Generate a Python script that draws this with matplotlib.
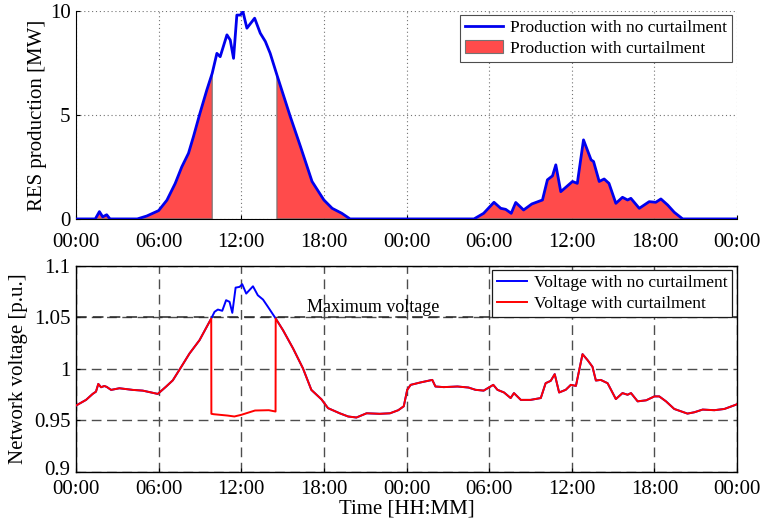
import numpy as np
import matplotlib
matplotlib.use('Agg')
import matplotlib.pyplot as plt
import matplotlib.transforms as mtransforms

plt.rcParams['font.family'] = ['Liberation Serif', 'DejaVu Serif']

# ---- RES production (MW), two days, hours from 00:00 of day 1
prod_hours = [0, 1.4, 1.7, 1.94, 2.23, 2.47, 4.45, 5.14, 6.0, 6.6, 7.2, 7.68, 8.17, 8.53, 9.0, 9.5,
              9.89, 10.23, 10.47, 10.96, 11.2, 11.44, 11.68, 11.93, 12.12, 12.41, 12.97, 13.38,
              13.75, 14.1, 14.59, 15.56, 16.3, 17.14, 18.0, 18.6, 19.3, 19.9,
              28.9, 29.6, 30.35, 30.84, 31.2, 31.6, 31.93, 32.5, 33.1, 33.87, 34.23, 34.6,
              34.84, 35.2, 36.05, 36.4, 36.85, 37.4, 37.58, 37.99, 38.35, 38.7, 39.2, 39.68,
              40.05, 40.29, 40.9, 41.62, 42.1, 42.47, 42.96, 43.44, 44.05, 48]
prod_mw = [0, 0, 0.35, 0.1, 0.2, 0, 0, 0.14, 0.4, 0.9, 1.7, 2.5, 3.16, 3.96, 5.08, 6.2,
           7.0, 7.96, 7.8, 8.85, 8.6, 7.72, 9.8, 9.8, 9.97, 9.17, 9.65, 8.93,
           8.53, 7.96, 6.92, 4.92, 3.48, 1.8, 0.91, 0.51, 0.27, 0,
           0, 0.27, 0.8, 0.51, 0.46, 0.27, 0.79, 0.43, 0.72, 0.91, 1.88, 2.07,
           2.6, 1.31, 1.8, 1.71, 3.8, 2.84, 2.76, 1.8, 1.92, 1.71, 0.75, 1.04,
           0.91, 0.99, 0.51, 0.83, 0.8, 0.96, 0.67, 0.32, 0, 0]
curt_start, curt_end = 9.89, 14.59

# ---- network voltage (p.u.)
volt_hours = [0, 0.73, 1.21, 1.45, 1.62, 1.82, 2.06, 2.23, 2.55, 3.15, 4.12, 4.85, 5.94, 6.55,
              7.03, 7.64, 8.24, 8.97, 9.82, 10.06, 10.3, 10.62, 10.9, 11.15, 11.35, 11.59,
              11.88, 12.07, 12.36, 12.85, 13.2, 13.58, 13.94, 14.5, 15.03, 15.76, 16.48,
              17.09, 17.82, 18.3, 19.15, 19.76, 20.36, 21.1, 22.06, 22.8, 23.4, 23.8,
              24.05, 24.3, 25.0, 25.87, 26.1, 26.7, 27.7, 28.5, 29.0, 29.6, 30.3, 30.6,
              31.08, 31.56, 31.8, 32.3, 33.0, 33.75, 34.1, 34.47, 34.76, 35.08, 35.56,
              35.93, 36.3, 36.78, 37.14, 37.5, 37.75, 38.1, 38.6, 39.2, 39.68, 40.05,
              40.3, 40.78, 41.4, 42.0, 42.35, 42.84, 43.44, 44.4, 44.9, 45.5, 46.35,
              47.08, 47.93, 48]
volt_no_curt = [0.9645, 0.970, 0.9758, 0.978, 0.9855, 0.9823, 0.9835, 0.9826, 0.9797, 0.9813,
                0.9797, 0.979, 0.9758, 0.983, 0.989, 1.002, 1.015, 1.028, 1.049, 1.0555,
                1.0577, 1.0565, 1.0668, 1.0652, 1.0545, 1.079, 1.0797, 1.0823, 1.0732,
                1.0803, 1.0716, 1.0674, 1.0603, 1.049, 1.0377, 1.02, 1.0006, 0.9797, 0.9706,
                0.962, 0.957, 0.9539, 0.9529, 0.957, 0.9565, 0.957, 0.960, 0.9638,
                0.9798, 0.9846, 0.9869, 0.9894, 0.983, 0.9824, 0.983, 0.982, 0.9798, 0.979,
                0.9846, 0.9798, 0.9772, 0.9718, 0.9766, 0.970, 0.970, 0.9718, 0.9862,
                0.9885, 0.995, 0.9772, 0.9798, 0.9846, 0.9836, 1.0144, 1.0087, 1.0022,
                0.9888, 0.9894, 0.9862, 0.9708, 0.9766, 0.975, 0.9766, 0.9686, 0.9696,
                0.9734, 0.9734, 0.9686, 0.9612, 0.9567, 0.958, 0.9606, 0.960, 0.9612,
                0.9654, 0.966]
# voltage inside the curtailment window
curt_v_hours = [9.82, 9.83, 10.0, 11.0, 11.5, 12.0, 13.0, 14.0, 14.49, 14.5]
curt_v = [1.049, 0.9565, 0.9561, 0.9548, 0.9539, 0.9555, 0.9597, 0.960, 0.9587, 1.049]
v_max = 1.05

xticks = np.arange(0, 49, 6)
xlabels = ['00:00', '06:00', '12:00', '18:00', '00:00', '06:00', '12:00', '18:00', '00:00']

ph = np.array(prod_hours)
pm = np.array(prod_mw)
vh = np.array(volt_hours)
vn = np.array(volt_no_curt)
# curtailed voltage = unchanged outside window, window values inside
mask = (vh < curt_v_hours[0]) | (vh > curt_v_hours[-1])
vc_h = np.concatenate([vh[mask & (vh < curt_start)], curt_v_hours, vh[mask & (vh > curt_end)]])
vc = np.concatenate([vn[mask & (vh < curt_start)], curt_v, vn[mask & (vh > curt_end)]])

fig = plt.figure(figsize=(7.63, 5.2), dpi=100)
ax1 = fig.add_axes([0.0996, 0.579, 0.8664, 0.4])
ax2 = fig.add_axes([0.0996, 0.0923, 0.8664, 0.3962])

# top: production
keep = (ph <= curt_start) | (ph >= curt_end)
fc = ax1.fill_between(ph, 0, pm, where=keep, facecolor='#ff4b4b', edgecolor='0.45',
                      linewidth=0.8, label='Production with curtailment', zorder=2)
ln, = ax1.plot(ph, pm, color='#0000ee', lw=2, label='Production with no curtailment', zorder=3)
ax1.set_xlim(0, 48)
ax1.set_ylim(0, 10)
ax1.set_yticks([0, 5, 10])
ax1.set_xticks(xticks)
ax1.set_xticklabels(xlabels)
ax1.grid(True, linestyle=(0, (1, 2.5)), color='0.45', lw=0.8)
for s in ['top', 'right']:
    ax1.spines[s].set_visible(False)
ax1.tick_params(direction='in', length=3, labelsize=15, pad=4)
ax1.tick_params(axis='x', pad=10)
ax1.set_ylabel('RES production [MW]', fontsize=15, labelpad=2)
leg1 = ax1.legend([ln, fc], ['Production with no curtailment', 'Production with curtailment'],
                  loc='upper right', bbox_to_anchor=(0.993, 0.982), borderaxespad=0,
                  fontsize=12.5, fancybox=False, edgecolor='0.3', framealpha=1,
                  handlelength=2.2, borderpad=0.3, labelspacing=0.25, handletextpad=0.4)
leg1.get_frame().set_linewidth(0.8)

# bottom: voltage
ax2.plot(vh, vn, color='#0000ff', lw=1.4, label='Voltage with no curtailment', zorder=3)
ax2.plot(vc_h, vc, color='#ff0000', lw=1.4, label='Voltage with curtailment', zorder=4)
ax2.axhline(v_max, color='0.15', lw=1.1, dashes=(7, 4), zorder=2)
ax2.text(16.75, v_max + 0.0012, 'Maximum voltage', fontsize=13, ha='left', va='bottom')
ax2.set_xlim(0, 48)
ax2.set_ylim(0.9, 1.1)
ax2.set_yticks([0.9, 0.95, 1.0, 1.05, 1.1])
ax2.set_yticklabels(['0.9', '0.95', '1', '1.05', '1.1'])
ax2.set_xticks(xticks)
ax2.set_xticklabels(xlabels)
ax2.grid(True, color='0.3', lw=1.0, dashes=(7, 4))
for s in ax2.spines.values():
    s.set_linewidth(1.0)
ax2.tick_params(direction='in', length=3, labelsize=15, pad=4)
ax2.tick_params(axis='x', pad=6)
ax2.set_ylabel('Network voltage [p.u.]', fontsize=15, labelpad=4)
ax2.set_xlabel('Time [HH:MM]', fontsize=15, labelpad=0)
# nudge the lowest y label up a little so it clears the first time label
lab = ax2.get_yticklabels()[0]
lab.set_transform(lab.get_transform() + mtransforms.ScaledTranslation(0, 4 / 100, fig.dpi_scale_trans))
leg2 = ax2.legend(loc='upper right', bbox_to_anchor=(0.993, 0.98), borderaxespad=0,
                  fontsize=12.5, fancybox=False, edgecolor='0.1', framealpha=1,
                  handlelength=1.7, borderpad=0.3, labelspacing=0.25, handletextpad=0.4)
leg2.get_frame().set_linewidth(0.9)

fig.savefig('out.png', dpi=100)
